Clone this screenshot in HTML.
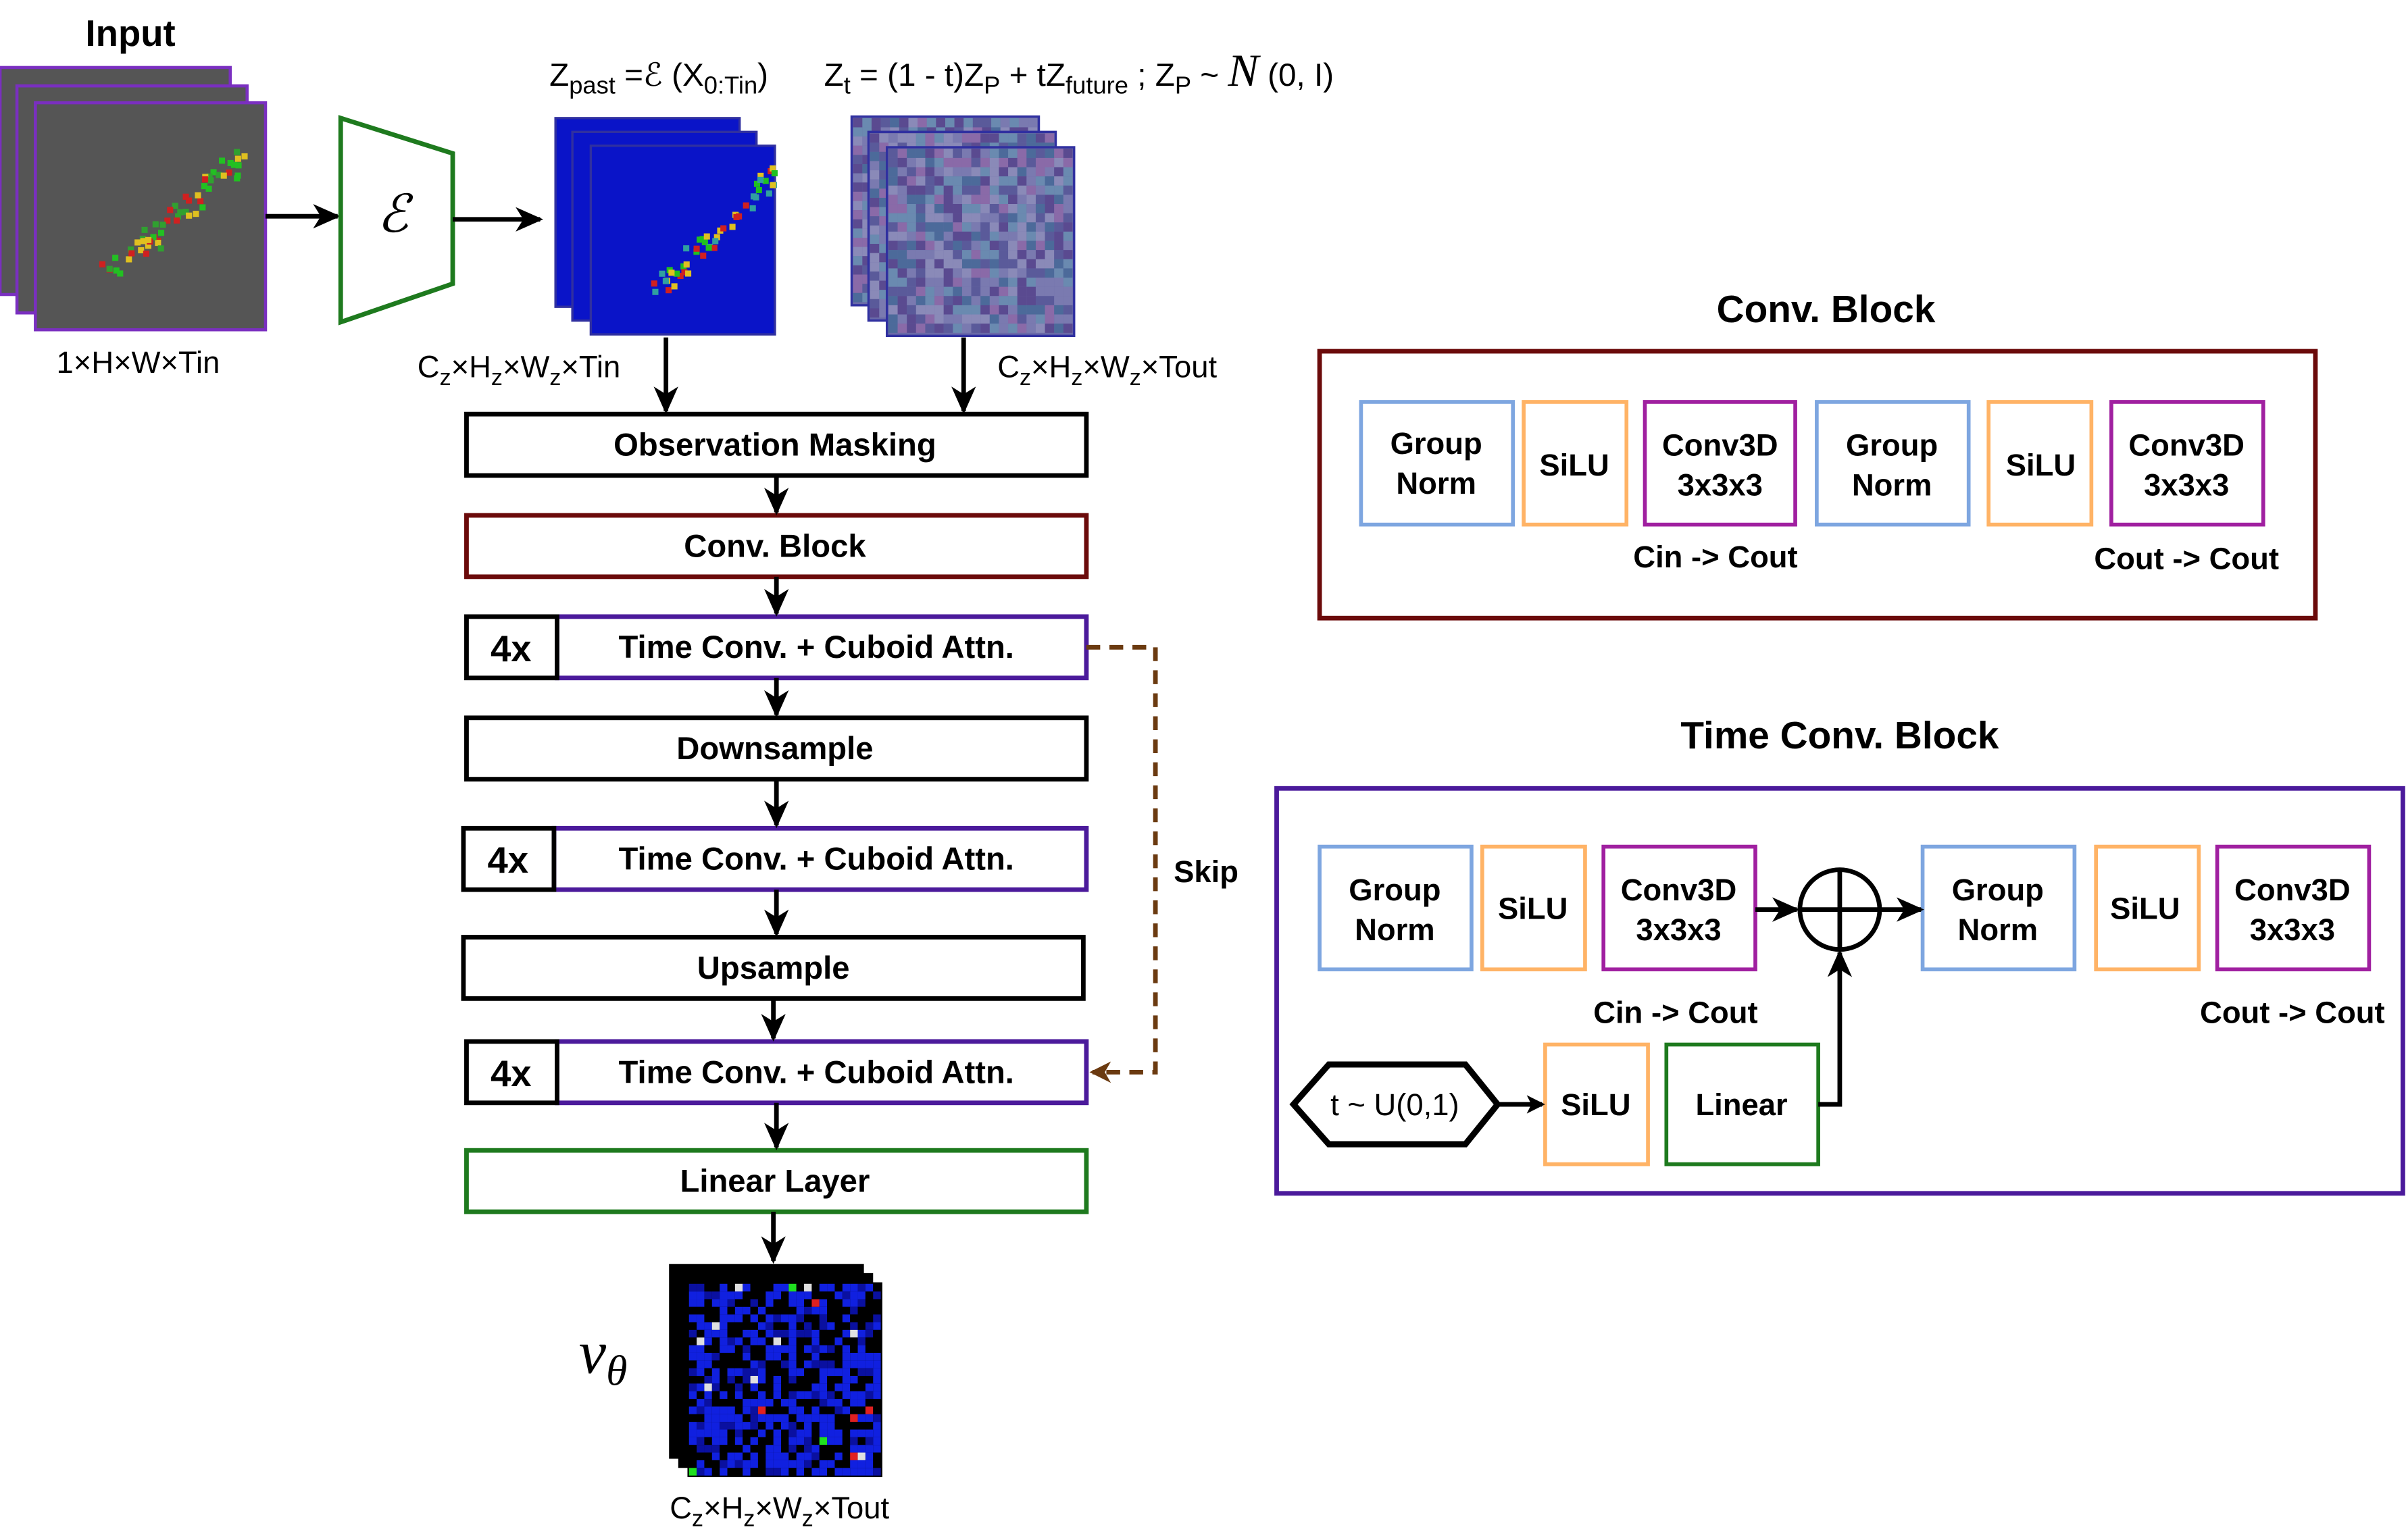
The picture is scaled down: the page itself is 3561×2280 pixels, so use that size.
<!DOCTYPE html>
<html><head><meta charset="utf-8"><style>
html,body{margin:0;padding:0;background:#fff;}
svg{display:block;}
text{font-family:"Liberation Sans",sans-serif;}
.b{font-weight:bold;font-size:20px;}
.m{font-weight:bold;font-size:20.8px;}
</style></head><body>
<svg id="s" width="3561" height="2280" viewBox="0 0 1568 1004" xmlns="http://www.w3.org/2000/svg">
<defs>
<marker id="ah" markerWidth="12" markerHeight="12" refX="10" refY="6" orient="auto" markerUnits="userSpaceOnUse"><path d="M0,0 L12,6 L0,12 L3,6 z" fill="#000"/></marker>
<marker id="ab" markerWidth="14" markerHeight="14" refX="12" refY="7" orient="auto" markerUnits="userSpaceOnUse"><path d="M0,0 L14,7 L0,14 L4,7 z" fill="#6b3a10"/></marker>
<marker id="ak" markerWidth="18" markerHeight="16" refX="16" refY="8" orient="auto" markerUnits="userSpaceOnUse"><path d="M0,0 L18,8 L0,16 L5,8 z" fill="#000"/></marker>
</defs>
<g id="imgs"></g>
<text x="85" y="30" class="b" text-anchor="middle" style="font-size:24px">Input</text>
<text x="90" y="243" text-anchor="middle" font-size="20">1×H×W×Tin</text>
<line x1="173" y1="141" x2="220" y2="141" stroke="#000" stroke-width="3" marker-end="url(#ak)"/>
<polygon points="222,77 295,100 295,185 222,210" fill="#fff" stroke="#1e7a1e" stroke-width="3"/>
<text x="256" y="151" text-anchor="middle" font-style="italic" font-size="34" style="font-family:'Liberation Serif',serif">ℰ</text>
<line x1="295" y1="143" x2="352" y2="143" stroke="#000" stroke-width="3" marker-end="url(#ak)"/>
<text x="358" y="56" font-size="21">Z<tspan font-size="16" dy="5">past</tspan><tspan dy="-5"> =ℰ (X</tspan><tspan font-size="16" dy="5">0:Tin</tspan><tspan dy="-5">)</tspan></text>
<text x="537" y="56" font-size="21">Z<tspan font-size="16" dy="5">t</tspan><tspan dy="-5"> = (1 - t)Z</tspan><tspan font-size="16" dy="5">P</tspan><tspan dy="-5"> + tZ</tspan><tspan font-size="16" dy="5">future</tspan><tspan dy="-5"> ; Z</tspan><tspan font-size="16" dy="5">P</tspan><tspan dy="-5">  ~  </tspan><tspan font-size="30" font-style="italic" style="font-family:'Liberation Serif',serif">N</tspan><tspan> (0, I)</tspan></text>
<line x1="434" y1="220" x2="434" y2="268" stroke="#000" stroke-width="3" marker-end="url(#ak)"/>
<line x1="628" y1="220" x2="628" y2="268" stroke="#000" stroke-width="3" marker-end="url(#ak)"/>
<text x="272" y="246" font-size="20">C<tspan font-size="15" dy="5">z</tspan><tspan dy="-5">×H</tspan><tspan font-size="15" dy="5">z</tspan><tspan dy="-5">×W</tspan><tspan font-size="15" dy="5">z</tspan><tspan dy="-5">×Tin</tspan></text>
<text x="650" y="246" font-size="20">C<tspan font-size="15" dy="5">z</tspan><tspan dy="-5">×H</tspan><tspan font-size="15" dy="5">z</tspan><tspan dy="-5">×W</tspan><tspan font-size="15" dy="5">z</tspan><tspan dy="-5">×Tout</tspan></text>

<g stroke-width="3" fill="#fff">
<rect x="304" y="270" width="404" height="40" stroke="#000"/>
<rect x="304" y="336" width="404" height="40" stroke="#6b0a0a"/>
<rect x="363" y="402" width="345" height="40" stroke="#4b1a9b"/><rect x="304" y="402" width="59" height="40" stroke="#000"/>
<rect x="304" y="468" width="404" height="40" stroke="#000"/>
<rect x="361" y="540" width="347" height="40" stroke="#4b1a9b"/><rect x="302" y="540" width="59" height="40" stroke="#000"/>
<rect x="302" y="611" width="404" height="40" stroke="#000"/>
<rect x="363" y="679" width="345" height="40" stroke="#4b1a9b"/><rect x="304" y="679" width="59" height="40" stroke="#000"/>
<rect x="304" y="750" width="404" height="40" stroke="#1e7a1e"/>
</g>
<g text-anchor="middle">
<text x="505" y="297" class="m">Observation Masking</text>
<text x="505" y="363" class="m">Conv. Block</text>
<text x="333" y="431" class="b" style="font-size:24px">4x</text><text x="532" y="429" class="m">Time Conv. + Cuboid Attn.</text>
<text x="505" y="495" class="m">Downsample</text>
<text x="331" y="569" class="b" style="font-size:24px">4x</text><text x="532" y="567" class="m">Time Conv. + Cuboid Attn.</text>
<text x="504" y="638" class="m">Upsample</text>
<text x="333" y="708" class="b" style="font-size:24px">4x</text><text x="532" y="706" class="m">Time Conv. + Cuboid Attn.</text>
<text x="505" y="777" class="m">Linear Layer</text>
</g>
<g stroke="#000" stroke-width="3">
<line x1="506" y1="310" x2="506" y2="334" marker-end="url(#ak)"/>
<line x1="506" y1="376" x2="506" y2="400" marker-end="url(#ak)"/>
<line x1="506" y1="442" x2="506" y2="466" marker-end="url(#ak)"/>
<line x1="506" y1="508" x2="506" y2="538" marker-end="url(#ak)"/>
<line x1="506" y1="580" x2="506" y2="609" marker-end="url(#ak)"/>
<line x1="504" y1="651" x2="504" y2="677" marker-end="url(#ak)"/>
<line x1="506" y1="719" x2="506" y2="748" marker-end="url(#ak)"/>
<line x1="504" y1="790" x2="504" y2="822" marker-end="url(#ak)"/>
</g>
<polyline points="708,422 753,422 753,699 712,699" fill="none" stroke="#6b3a10" stroke-width="3" stroke-dasharray="9,6" marker-end="url(#ab)"/>
<text x="786" y="575" class="b" text-anchor="middle">Skip</text>
<text x="393" y="895" text-anchor="middle" font-size="40" font-style="italic" style="font-family:'Liberation Serif',serif">v<tspan font-size="28" dy="8">θ</tspan></text>
<text x="508" y="990" text-anchor="middle" font-size="20">C<tspan font-size="15" dy="5">z</tspan><tspan dy="-5">×H</tspan><tspan font-size="15" dy="5">z</tspan><tspan dy="-5">×W</tspan><tspan font-size="15" dy="5">z</tspan><tspan dy="-5">×Tout</tspan></text>

<text x="1190" y="210" class="b" text-anchor="middle" style="font-size:25px">Conv. Block</text>
<rect x="860" y="229" width="649" height="174" fill="none" stroke="#6b0a0a" stroke-width="3"/>
<g fill="#fff" stroke-width="2.5">
<rect x="887" y="262" width="99" height="80" stroke="#7ea6e0"/>
<rect x="993" y="262" width="67" height="80" stroke="#ffb366"/>
<rect x="1072" y="262" width="98" height="80" stroke="#a020a0"/>
<rect x="1184" y="262" width="99" height="80" stroke="#7ea6e0"/>
<rect x="1296" y="262" width="67" height="80" stroke="#ffb366"/>
<rect x="1376" y="262" width="99" height="80" stroke="#a020a0"/>
</g>
<g text-anchor="middle">
<text x="936" y="296" class="b">Group</text><text x="936" y="322" class="b">Norm</text>
<text x="1026" y="310" class="b">SiLU</text>
<text x="1121" y="297" class="b">Conv3D</text><text x="1121" y="323" class="b">3x3x3</text>
<text x="1233" y="297" class="b">Group</text><text x="1233" y="323" class="b">Norm</text>
<text x="1330" y="310" class="b">SiLU</text>
<text x="1425" y="297" class="b">Conv3D</text><text x="1425" y="323" class="b">3x3x3</text>
<text x="1118" y="370" class="b">Cin -&gt; Cout</text>
<text x="1425" y="371" class="b">Cout -&gt; Cout</text>
</g>

<text x="1199" y="488" class="b" text-anchor="middle" style="font-size:25px">Time Conv. Block</text>
<rect x="832" y="514" width="734" height="264" fill="none" stroke="#4b1a9b" stroke-width="3"/>
<g fill="#fff" stroke-width="2.5">
<rect x="860" y="552" width="99" height="80" stroke="#7ea6e0"/>
<rect x="966" y="552" width="67" height="80" stroke="#ffb366"/>
<rect x="1045" y="552" width="99" height="80" stroke="#a020a0"/>
<rect x="1253" y="552" width="99" height="80" stroke="#7ea6e0"/>
<rect x="1366" y="552" width="67" height="80" stroke="#ffb366"/>
<rect x="1445" y="552" width="99" height="80" stroke="#a020a0"/>
<rect x="1007" y="681" width="67" height="78" stroke="#ffb366"/>
<rect x="1086" y="681" width="99" height="78" stroke="#1e7a1e"/>
</g>
<circle cx="1199" cy="593" r="26" fill="#fff" stroke="#000" stroke-width="3"/>
<line x1="1173" y1="593" x2="1225" y2="593" stroke="#000" stroke-width="3"/>
<line x1="1199" y1="567" x2="1199" y2="619" stroke="#000" stroke-width="3"/>
<polygon points="843,720 866,694 955,694 976,720 955,746 866,746" fill="#fff" stroke="#000" stroke-width="4"/>
<g stroke="#000" stroke-width="3" fill="none">
<line x1="1144" y1="593" x2="1171" y2="593" marker-end="url(#ak)"/>
<line x1="1226" y1="593" x2="1252" y2="593" marker-end="url(#ak)"/>
<line x1="976" y1="720" x2="1005" y2="720" marker-end="url(#ah)"/>
<polyline points="1185,720 1199,720 1199,621" marker-end="url(#ak)"/>
</g>
<g text-anchor="middle">
<text x="909" y="587" class="b">Group</text><text x="909" y="613" class="b">Norm</text>
<text x="999" y="599" class="b">SiLU</text>
<text x="1094" y="587" class="b">Conv3D</text><text x="1094" y="613" class="b">3x3x3</text>
<text x="1302" y="587" class="b">Group</text><text x="1302" y="613" class="b">Norm</text>
<text x="1398" y="599" class="b">SiLU</text>
<text x="1494" y="587" class="b">Conv3D</text><text x="1494" y="613" class="b">3x3x3</text>
<text x="1092" y="667" class="b">Cin -&gt; Cout</text>
<text x="1494" y="667" class="b">Cout -&gt; Cout</text>
<text x="909" y="727" font-size="20">t ~ U(0,1)</text>
<text x="1040" y="727" class="b">SiLU</text>
<text x="1135" y="727" class="b">Linear</text>
</g>
</svg>
<script>
(function(){
var g=document.getElementById('imgs'),NS='http://www.w3.org/2000/svg';
var seed=7;function r(){seed=(seed*16807)%2147483647;return seed/2147483647;}
function rect(x,y,w,h,f,s,sw){var e=document.createElementNS(NS,'rect');e.setAttribute('x',x);e.setAttribute('y',y);e.setAttribute('width',w);e.setAttribute('height',h);e.setAttribute('fill',f);if(s){e.setAttribute('stroke',s);e.setAttribute('stroke-width',sw);}g.appendChild(e);}
[[0,44],[11,56],[23,67]].forEach(function(p){rect(p[0],p[1],150,148,'#555','#7a2fc0',2);});
for(var i=0;i<60;i++){var t=r();var x=60+t*90+r()*15,y=170-t*80+r()*15;rect(x,y,4,4,['#22c022','#e0c020','#d02020','#30a030'][i%4]);}
[[362,77],[373,86],[385,95]].forEach(function(p){rect(p[0],p[1],120,123,'#0a14c8','#3030a0',1.5);});
for(var i=0;i<50;i++){var t=r();rect(420+t*80+r()*10,185-t*80+r()*10,4,4,['#20c020','#e0c020','#d02020','#30a0a0'][i%4]);}
var cs=['#5a5a9a','#7a7ab0','#4c6a9a','#8a6aa8','#6a8ab0','#5a4a90','#8a8ab8'];
[[555,76],[566,86],[578,96]].forEach(function(p){rect(p[0],p[1],122,123,'#6a6aa8','#3030a0',1.5);
for(var yy=0;yy<120;yy+=6)for(var xx=0;xx<120;xx+=6)rect(p[0]+1+xx,p[1]+1+yy,6,6,cs[Math.floor(r()*cs.length)]);});
[[436,824],[442,830],[448,836]].forEach(function(p){rect(p[0],p[1],127,127,'#000');});
for(var yy=0;yy<125;yy+=5)for(var xx=0;xx<125;xx+=5){var v=r();var c=v<0.45?'#1020e0':v<0.6?'#0a10a0':v<0.97?'#000':['#20e020','#e02020','#e0e0e0'][Math.floor(r()*3)];rect(449+xx,837+yy,5,5,c);}
})();
</script>
</body></html>
